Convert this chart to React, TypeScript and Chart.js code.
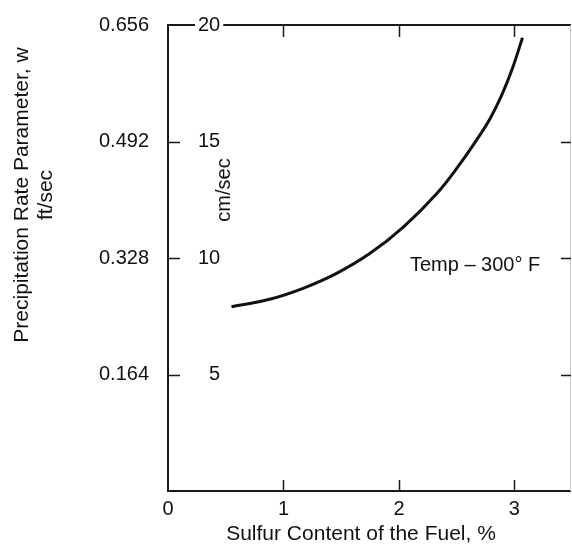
import React, { useEffect, useRef } from "react";
import { Chart, registerables } from "chart.js";

Chart.register(...registerables);

// ---- data ----
const sulfurPct = [0.55, 0.88, 1.17, 1.46, 1.75, 2.04, 2.33, 2.53, 2.67, 2.79, 2.89, 2.98, 3.07];
const velocityCmSec = [7.91, 8.23, 8.7, 9.34, 10.2, 11.34, 12.78, 14.05, 15.05, 15.99, 16.99, 18.1, 19.45];

const xTicks = [0, 1, 2, 3];
const cmTicks = [5, 10, 15, 20];
const ftTicks = [0.164, 0.328, 0.492, 0.656];

const X_MAX = 3.49;
const CM_MAX = 20;
const FT_MAX = 0.656;

const xTitle = "Sulfur Content of the Fuel, %";
const yTitle = ["Precipitation Rate Parameter, w", "ft/sec"];
const cmLabel = "cm/sec";
const tempLabel = "Temp – 300° F";
const tempAt = { x: 2.095, y: 9.44 };

const FONT = "'Liberation Sans', Arial, Helvetica, sans-serif";
const INK = "#111";

const framePlugin = {
  id: "frame",
  beforeDraw(chart: any) {
    const { ctx, chartArea: a, scales } = chart;
    const xs = scales.x;
    const ys = scales.y;
    ctx.save();
    ctx.strokeStyle = "#1a1a1a";
    ctx.lineWidth = 2;
    ctx.beginPath();
    ctx.moveTo(a.left, a.top);
    ctx.lineTo(a.left, a.bottom);
    ctx.lineTo(a.right, a.bottom);
    ctx.moveTo(a.left - 1, a.top);
    ctx.lineTo(a.right, a.top);
    ctx.stroke();

    ctx.strokeStyle = "#c8c8c8";
    ctx.lineWidth = 1;
    ctx.beginPath();
    ctx.moveTo(a.right - 0.5, a.top);
    ctx.lineTo(a.right - 0.5, a.bottom);
    ctx.stroke();

    ctx.strokeStyle = "#1a1a1a";
    ctx.lineWidth = 1.5;
    ctx.beginPath();
    xTicks
      .filter((v) => v > 0)
      .forEach((v) => {
        const px = Math.round(xs.getPixelForValue(v)) + 0.5;
        ctx.moveTo(px, a.bottom);
        ctx.lineTo(px, a.bottom - 11);
        ctx.moveTo(px, a.top);
        ctx.lineTo(px, a.top + 12);
      });
    cmTicks
      .filter((v) => v < CM_MAX)
      .forEach((v) => {
        const py = Math.round(ys.getPixelForValue(v)) + 0.5;
        ctx.moveTo(a.left, py);
        ctx.lineTo(a.left + 12, py);
        ctx.moveTo(a.right, py);
        ctx.lineTo(a.right - 10, py);
      });
    ctx.stroke();
    ctx.restore();
  },
  afterDraw(chart: any) {
    const { ctx, chartArea: a, scales } = chart;
    ctx.save();
    ctx.fillStyle = INK;
    ctx.font = `21px ${FONT}`;

    // x title
    ctx.textAlign = "center";
    ctx.textBaseline = "alphabetic";
    ctx.fillText(xTitle, 361, 540);

    // y title (two lines, rotated)
    const drawRot = (text: string, x: number, y: number) => {
      ctx.save();
      ctx.translate(x, y);
      ctx.rotate(-Math.PI / 2);
      ctx.textAlign = "center";
      ctx.textBaseline = "alphabetic";
      ctx.fillText(text, 0, 0);
      ctx.restore();
    };
    drawRot(yTitle[0], 28, 195);
    drawRot(yTitle[1], 52, 195);

    // cm/sec inside the plot
    ctx.font = `20px ${FONT}`;
    drawRot(cmLabel, a.left + 62, 190);

    // Temp label
    ctx.textAlign = "left";
    ctx.textBaseline = "alphabetic";
    ctx.fillText(
      tempLabel,
      scales.x.getPixelForValue(tempAt.x),
      scales.y.getPixelForValue(tempAt.y)
    );
    ctx.restore();
  },
};

export default function App() {
  const ref = useRef<HTMLCanvasElement | null>(null);

  useEffect(() => {
    if (!ref.current) return;
    Chart.defaults.font.family = FONT;
    Chart.defaults.font.size = 20;
    Chart.defaults.color = INK;

    const chart = new Chart(ref.current, {
      type: "line",
      data: {
        datasets: [
          {
            data: sulfurPct.map((x, i) => ({ x, y: velocityCmSec[i] })),
            borderColor: "#111",
            borderWidth: 3,
            pointRadius: 0,
            fill: false,
            tension: 0.4,
            yAxisID: "y",
            xAxisID: "x",
          },
        ],
      },
      options: {
        animation: false,
        responsive: false,
        maintainAspectRatio: false,
        layout: { padding: { top: 25, right: 1, left: 0, bottom: 0 } },
        plugins: {
          legend: { display: false },
          tooltip: { enabled: false },
        },
        scales: {
          x: {
            type: "linear",
            position: "bottom",
            min: 0,
            max: X_MAX,
            grid: { display: false, drawTicks: false },
            border: { display: false },
            ticks: { padding: 6, color: INK, font: { size: 20 } },
            afterBuildTicks: (s: any) => {
              s.ticks = xTicks.map((v) => ({ value: v }));
            },
            afterFit: (s: any) => {
              s.height = 53;
              s.paddingLeft = 0;
              s.paddingRight = 0;
            },
          },
          y: {
            type: "linear",
            position: "left",
            weight: 0,
            min: 0,
            max: CM_MAX,
            grid: { display: false, drawTicks: false },
            border: { display: false },
            ticks: {
              mirror: true,
              crossAlign: "far",
              padding: 30,
              color: INK,
              font: { size: 20 },
              showLabelBackdrop: true,
              backdropColor: "#ffffff",
              backdropPadding: { top: 0, bottom: 0, left: 3, right: 3 },
            },
            afterBuildTicks: (s: any) => {
              s.ticks = cmTicks.map((v) => ({ value: v }));
            },
            afterFit: (s: any) => {
              s.width = 0;
              s.paddingTop = 0;
              s.paddingBottom = 0;
            },
          },
          yFt: {
            type: "linear",
            axis: "y",
            position: "left",
            weight: 1,
            min: 0,
            max: FT_MAX,
            grid: { display: false, drawTicks: false },
            border: { display: false },
            ticks: {
              padding: 19,
              color: INK,
              font: { size: 20 },
              callback: (v: any) => Number(v).toFixed(3),
            },
            afterBuildTicks: (s: any) => {
              s.ticks = ftTicks.map((v) => ({ value: v }));
            },
            afterFit: (s: any) => {
              s.width = 168;
              s.paddingTop = 0;
              s.paddingBottom = 0;
            },
          },
        },
      } as any,
      plugins: [framePlugin],
    });
    return () => chart.destroy();
  }, []);

  return (
    <div
      style={{
        position: "fixed",
        left: 0,
        top: 0,
        width: 572,
        height: 544,
        background: "#ffffff",
      }}
    >
      <canvas
        ref={ref}
        width={572}
        height={544}
        style={{ width: 572, height: 544, display: "block" }}
      />
    </div>
  );
}
